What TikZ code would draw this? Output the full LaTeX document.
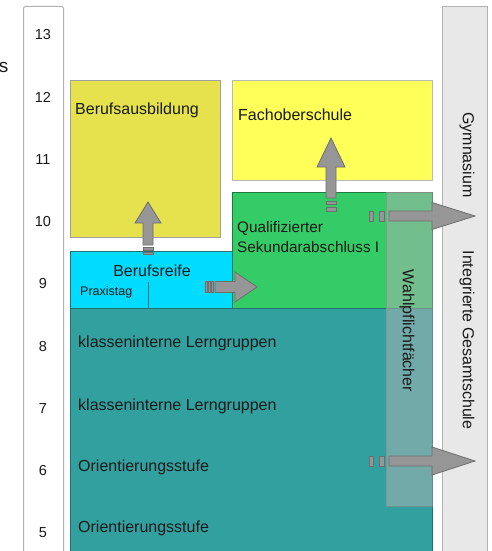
\documentclass[tikz,border=0pt]{standalone}
\usepackage{fontspec}
\setmainfont{Liberation Sans}
\usetikzlibrary{calc}

\definecolor{ausbcol}{HTML}{E6E24E}
\definecolor{foscol}{HTML}{FFFF5A}
\definecolor{qualicol}{HTML}{33CC66}
\definecolor{reifecol}{HTML}{00DCFF}
\definecolor{tealcol}{HTML}{33A0A0}
\definecolor{arrowfill}{HTML}{969696}
\definecolor{arrowline}{HTML}{6E6E6E}
\definecolor{txtcol}{HTML}{1A1A1A}

\newcommand{\boxnode}{\node[box]}
\newcommand{\lbl}{\fontsize{16}{19.5}\selectfont}

\tikzset{
  box/.style={inner sep=0pt, anchor=north west, line width=0.7pt},
  txt/.style={inner sep=0pt, text=txtcol, font=\lbl},
  num/.style={inner sep=0pt, text=txtcol, font=\fontsize{14.5}{17}\selectfont},
  side/.style={txt, rotate=-90},
  hlen/.store in=\hlen, shalf/.store in=\shalf, bhalf/.store in=\bhalf,
  hlen=22pt, shalf=5pt, bhalf=14pt,
  blockarrow/.style={draw=arrowline, fill=arrowfill, line width=0.8pt,
    to path={
      ($(\tikztostart)!\shalf!90:(\tikztotarget)$)
      -- ($(\tikztotarget)!\hlen!(\tikztostart)!\shalf!-90:(\tikztostart)$)
      -- ($(\tikztotarget)!\hlen!(\tikztostart)!\bhalf!-90:(\tikztostart)$)
      -- (\tikztotarget)
      -- ($(\tikztotarget)!\hlen!(\tikztostart)!\bhalf!90:(\tikztostart)$)
      -- ($(\tikztotarget)!\hlen!(\tikztostart)!\shalf!90:(\tikztostart)$)
      -- ($(\tikztostart)!\shalf!-90:(\tikztotarget)$) -- cycle}},
  stripe/.style={draw=arrowline, fill=arrowfill, line width=0.6pt},
}

\begin{document}
\begin{tikzpicture}[x=1pt,y=-1pt]
  \clip (0,0) rectangle (492,551);

  % grade column
  \boxnode[draw=gray!60, fill=white, rounded corners=1.5pt, line width=1pt,
    minimum width=40pt, minimum height=570pt] (grades) at (23,6) {};
  \foreach \g [count=\i from 0] in {13,12,...,5}
    \node[num] (g\g) at (43,35+62.25*\i) {\g};
  \node[txt, anchor=east, font=\fontsize{19}{22}\selectfont] (cut) at (8.5,67) {s};

  % right column
  \boxnode[draw=gray!60, fill=gray!18, minimum width=45pt, minimum height=570pt] (gymigs) at (442,6) {};
  \node[side] (gym) at (467,155) {Gymnasium};
  \node[side] (igs) at (467,340) {Integrierte Gesamtschule};

  % school boxes
  \boxnode[draw=gray!75, fill=ausbcol, minimum width=150pt, minimum height=157pt] (ausb) at (70,80) {};
  \boxnode[draw=gray!55, fill=foscol, minimum width=200pt, minimum height=100pt] (fos) at (232,80) {};
  \boxnode[draw=qualicol!60!black, fill=qualicol, minimum width=200pt, minimum height=116pt] (quali) at (232,192) {};
  \boxnode[draw=tealcol!70!black, fill=reifecol, minimum width=162pt, minimum height=57pt] (reife) at (70,251) {};
  \boxnode[draw=tealcol!70!black, fill=tealcol, minimum width=362pt, minimum height=260pt] (sek) at (70,308) {};
  \draw[tealcol!70!black, line width=0.7pt] (148,282) -- (148,308);

  \node[txt, anchor=west] (ausbtxt) at (75,110) {Berufsausbildung};
  \node[txt, anchor=west] (fostxt) at (238,115) {Fachoberschule};
  \node[txt, anchor=west, align=left, font=\fontsize{15.3}{19.5}\selectfont] (qualitxt) at (237,237) {Qualifizierter\\Sekundarabschluss I};
  \node[txt] (reifetxt) at (152,271) {Berufsreife};
  \node[txt, anchor=west, font=\fontsize{12.5}{15}\selectfont] (praxis) at (80,292) {Praxistag};
  \node[txt, anchor=west] (lern8) at (78,343) {klasseninterne Lerngruppen};
  \node[txt, anchor=west] (lern7) at (78,406) {klasseninterne Lerngruppen};
  \node[txt, anchor=west] (ori6) at (78,467) {Orientierungsstufe};
  \node[txt, anchor=west] (ori5) at (78,528) {Orientierungsstufe};

  % Wahlpflichtfaecher overlay
  \boxnode[draw=black!45, fill=gray!60, fill opacity=0.5, draw opacity=0.7,
    minimum width=46pt, minimum height=314pt] (wpf) at (386,192) {};
  \node[side] (wpftxt) at (407,331) {Wahlpflichtfächer};

  % arrows
  \coordinate (up1s) at (148,245);  \coordinate (up1t) at (148,202);
  \coordinate (up2s) at (331,198);  \coordinate (up2t) at (331,138);
  \coordinate (re1s) at (215,287);  \coordinate (re1t) at (257,287);
  \coordinate (re2s) at (389,216);  \coordinate (re2t) at (475,216);
  \coordinate (re3s) at (389,461);  \coordinate (re3t) at (475,461);

  \draw[blockarrow, hlen=21pt, bhalf=13pt] (up1s) to (up1t);
  \draw[stripe] (143,247.5) rectangle (153,250);
  \draw[stripe] (143,252) rectangle (153,254.5);

  \draw[blockarrow, hlen=29pt] (up2s) to (up2t);
  \draw[stripe] (326,201) rectangle (336,204);
  \draw[stripe] (326,207) rectangle (336,211);

  \draw[blockarrow, hlen=22pt, shalf=5.5pt, bhalf=15pt] (re1s) to (re1t);
  \foreach \x in {205,208,211}
    \draw[stripe] (\x,281.5) rectangle (\x+1.8,292.5);

  \draw[blockarrow, hlen=43pt, bhalf=13.5pt] (re2s) to (re2t);
  \draw[stripe] (369,211) rectangle (373,221);
  \draw[stripe] (379,211) rectangle (384,221);

  \draw[blockarrow, hlen=43pt] (re3s) to (re3t);
  \draw[stripe] (369,456) rectangle (373,466);
  \draw[stripe] (379,456) rectangle (384,466);
\end{tikzpicture}
\end{document}
